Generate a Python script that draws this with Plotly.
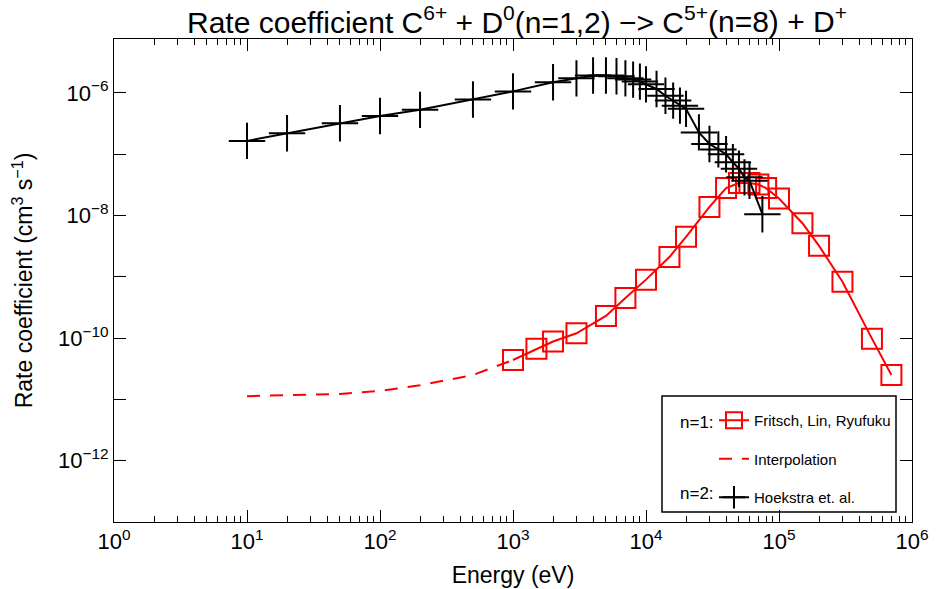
import plotly.graph_objects as go

# ---- data ----
fritsch_energy = [1000, 1500, 2000, 3000, 5000, 7000, 10000, 15000, 20000, 30000, 40000,
                  50000, 60000, 70000, 80000, 100000, 150000, 200000, 300000, 500000, 700000]
fritsch_rate = [4.4e-11, 6.7e-11, 8.8e-11, 1.2e-10, 2.3e-10, 4.5e-10, 9.0e-10, 2.1e-9, 4.5e-9,
                1.38e-8, 2.8e-8, 3.4e-8, 3.4e-8, 3.2e-8, 2.8e-8, 1.9e-8, 7.5e-9, 3.2e-9,
                8.3e-10, 9.8e-11, 2.5e-11]

interp_energy = [10, 20, 50, 100, 200, 500, 1000]
interp_rate = [1.13e-11, 1.17e-11, 1.23e-11, 1.38e-11, 1.7e-11, 2.5e-11, 4.4e-11]

hoek_energy = [10, 20, 50, 100, 200, 500, 1000, 2000, 3000, 4000, 5000, 6000, 7000, 8000,
               9000, 10000, 12000, 14000, 16000, 18000, 20000, 25000, 30000, 35000, 40000,
               45000, 50000, 55000, 60000, 75000]
hoek_rate = [1.65e-7, 2.2e-7, 3.2e-7, 4.2e-7, 5.3e-7, 7.8e-7, 1.06e-6, 1.49e-6, 1.73e-6,
             1.92e-6, 1.92e-6, 1.87e-6, 1.73e-6, 1.65e-6, 1.53e-6, 1.38e-6, 1.16e-6, 9.0e-7,
             7.5e-7, 6.2e-7, 5.5e-7, 2.27e-7, 1.47e-7, 1.2e-7, 1.0e-7, 7.4e-8, 5.8e-8,
             4.2e-8, 3.7e-8, 1.05e-8]

x_tick_vals = [1, 10, 100, 1000, 10000, 100000, 1000000]
x_tick_text = ["10<sup>0</sup>", "10<sup>1</sup>", "10<sup>2</sup>", "10<sup>3</sup>",
               "10<sup>4</sup>", "10<sup>5</sup>", "10<sup>6</sup>"]
y_tick_vals = [1e-13, 1e-12, 1e-11, 1e-10, 1e-9, 1e-8, 1e-7, 1e-6, 1e-5]
y_tick_text = ["", "10<sup>\u221212</sup>", "", "10<sup>\u221210</sup>", "",
               "10<sup>\u22128</sup>", "", "10<sup>\u22126</sup>", ""]

FONT = "Liberation Sans, Arial, sans-serif"

# plot area in pixels
L, R, T, B = 114, 912, 39, 522
W, H = 937, 589

def px_x(p):
    return (p - L) / (R - L)

def px_y(p):
    return (B - p) / (B - T)

minor_x = [m * 10 ** d for d in range(0, 6) for m in range(2, 10)]

fig = go.Figure()
fig.add_trace(go.Scatter(
    x=fritsch_energy, y=fritsch_rate, mode="lines+markers", name="Fritsch, Lin, Ryufuku",
    line=dict(color="#ff0000", width=2),
    marker=dict(symbol="square-open", size=20, color="#ff0000", line=dict(width=2)),
    legendgroup="a"))
fig.add_trace(go.Scatter(
    x=interp_energy, y=interp_rate, mode="lines", name="Interpolation",
    line=dict(color="#ff0000", width=2, dash="13px,10px"), legendgroup="b"))
fig.add_trace(go.Scatter(
    x=hoek_energy, y=hoek_rate, mode="lines+markers", name="Hoekstra et. al.",
    line=dict(color="black", width=2),
    marker=dict(symbol="cross-thin-open", size=26, color="black", line=dict(width=2, color="black")),
    legendgroup="c"))

axis_common = dict(
    showline=True, linecolor="black", linewidth=1, mirror="ticks",
    ticks="inside", ticklen=12, tickcolor="black", tickwidth=1,
    showgrid=False, zeroline=False, automargin=False,
    tickfont=dict(family=FONT, size=22, color="black"),
)

fig.update_xaxes(type="log", range=[0, 6], tickmode="array", tickvals=x_tick_vals,
                 ticktext=x_tick_text,
                 minor=dict(ticks="inside", ticklen=6, tickcolor="black", tickvals=minor_x),
                 title=dict(text="Energy (eV)", font=dict(family=FONT, size=23, color="black"),
                            standoff=13),
                 **axis_common)
fig.update_yaxes(type="log", range=[-13, -5.12], tickmode="array", tickvals=y_tick_vals,
                 ticktext=y_tick_text,
                 title=dict(text="Rate coefficient (cm<sup>3</sup> s<sup>\u22121</sup>)",
                            font=dict(family=FONT, size=23, color="black"), standoff=18),
                 **axis_common)

fig.update_layout(
    width=W, height=H,
    margin=dict(l=L, r=W - R, t=T, b=H - B),
    plot_bgcolor="white", paper_bgcolor="white",
    title=dict(text="Rate coefficient C<sup>6+</sup> + D<sup>0</sup>(n=1,2) \u2212> C<sup>5+</sup>(n=8) + D<sup>+</sup>",
               font=dict(family=FONT, size=30, color="black"),
               x=px_x(517), xanchor="center", xref="paper", y=1 - 22 / H, yanchor="middle"),
    showlegend=True,
    legend=dict(x=px_x(714), y=px_y(404), xanchor="left", yanchor="top",
                bgcolor="rgba(0,0,0,0)", borderwidth=0,
                font=dict(family=FONT, size=15, color="black"),
                tracegroupgap=16, itemwidth=30),
    shapes=[dict(type="rect", xref="paper", yref="paper",
                 x0=px_x(662), x1=px_x(896), y0=px_y(512), y1=px_y(396),
                 line=dict(color="black", width=1.5), fillcolor="rgba(0,0,0,0)", layer="above")],
    annotations=[
        dict(text="n=1:", xref="paper", yref="paper", x=px_x(716), y=px_y(422),
             xanchor="right", yanchor="middle", showarrow=False,
             font=dict(family=FONT, size=17, color="black")),
        dict(text="n=2:", xref="paper", yref="paper", x=px_x(716), y=px_y(493),
             xanchor="right", yanchor="middle", showarrow=False,
             font=dict(family=FONT, size=17, color="black")),
    ],
)

fig.write_html("out.html")
